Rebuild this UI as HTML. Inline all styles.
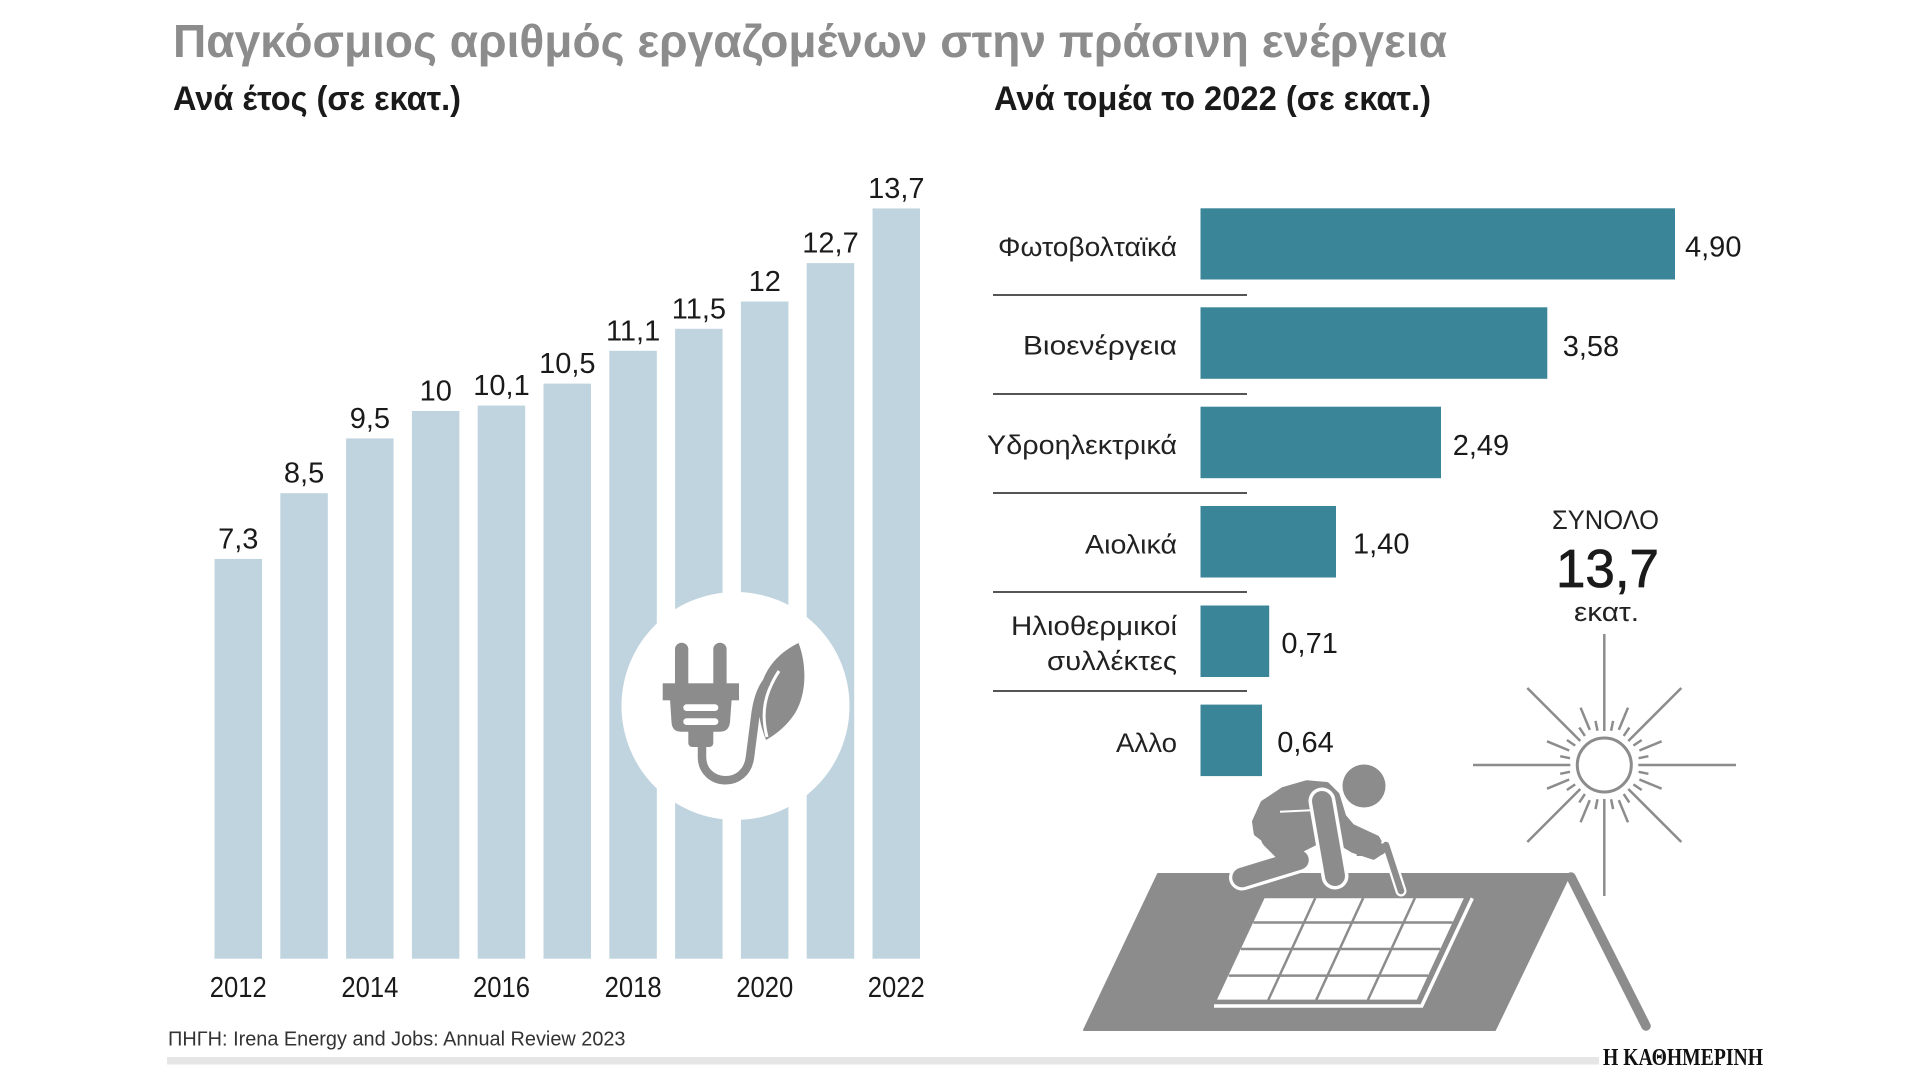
<!DOCTYPE html>
<html>
<head>
<meta charset="utf-8">
<style>
  html, body { margin: 0; padding: 0; background: #ffffff; }
  body { width: 1920px; height: 1080px; overflow: hidden; }
  svg { display: block; }
  text { font-family: "Liberation Sans", "DejaVu Sans", sans-serif; }
  .val { font-size: 29px; fill: #1a1a1a; }
  .lbl { font-size: 27px; fill: #222222; }
</style>
</head>
<body>
<svg width="1920" height="1080" viewBox="0 0 1920 1080" xmlns="http://www.w3.org/2000/svg">
  <rect x="0" y="0" width="1920" height="1080" fill="#ffffff"/>

  <!-- Title -->
  <text x="173" y="57" font-size="46" font-weight="bold" fill="#8c8c8c" textLength="1274" lengthAdjust="spacingAndGlyphs">Παγκόσμιος αριθμός εργαζομένων στην πράσινη ενέργεια</text>

  <!-- Subtitles -->
  <text x="173" y="110" font-size="34" font-weight="bold" fill="#1a1a1a" textLength="288" lengthAdjust="spacingAndGlyphs">Ανά έτος (σε εκατ.)</text>
  <text x="994" y="110" font-size="34" font-weight="bold" fill="#1a1a1a" textLength="437" lengthAdjust="spacingAndGlyphs">Ανά τομέα το 2022 (σε εκατ.)</text>

  <!-- Left bar chart -->
  <g fill="#c0d4df">
    <rect x="214.5" y="558.9" width="47.5" height="399.8"/>
    <rect x="280.3" y="493.2" width="47.5" height="465.5"/>
    <rect x="346.1" y="438.4" width="47.5" height="520.3"/>
    <rect x="411.9" y="411.0" width="47.5" height="547.7"/>
    <rect x="477.7" y="405.5" width="47.5" height="553.2"/>
    <rect x="543.5" y="383.6" width="47.5" height="575.1"/>
    <rect x="609.3" y="350.8" width="47.5" height="607.9"/>
    <rect x="675.1" y="328.8" width="47.5" height="629.9"/>
    <rect x="740.9" y="301.5" width="47.5" height="657.2"/>
    <rect x="806.7" y="263.1" width="47.5" height="695.6"/>
    <rect x="872.5" y="208.4" width="47.5" height="750.3"/>
  </g>
  <g class="val" text-anchor="middle">
    <text class="val" x="238.3" y="548.4">7,3</text>
    <text class="val" x="304.1" y="482.7">8,5</text>
    <text class="val" x="369.9" y="427.9">9,5</text>
    <text class="val" x="435.7" y="400.5">10</text>
    <text class="val" x="501.5" y="395.0">10,1</text>
    <text class="val" x="567.3" y="373.1">10,5</text>
    <text class="val" x="633.1" y="340.3">11,1</text>
    <text class="val" x="698.9" y="318.3">11,5</text>
    <text class="val" x="764.7" y="291.0">12</text>
    <text class="val" x="830.5" y="252.6">12,7</text>
    <text class="val" x="896.3" y="197.9">13,7</text>
  </g>
  <g text-anchor="middle">
    <text class="val" x="238.3" y="997" textLength="57" lengthAdjust="spacingAndGlyphs">2012</text>
    <text class="val" x="369.9" y="997" textLength="57" lengthAdjust="spacingAndGlyphs">2014</text>
    <text class="val" x="501.5" y="997" textLength="57" lengthAdjust="spacingAndGlyphs">2016</text>
    <text class="val" x="633.1" y="997" textLength="57" lengthAdjust="spacingAndGlyphs">2018</text>
    <text class="val" x="764.7" y="997" textLength="57" lengthAdjust="spacingAndGlyphs">2020</text>
    <text class="val" x="896.3" y="997" textLength="57" lengthAdjust="spacingAndGlyphs">2022</text>
  </g>

  <!-- Icon circle with plug + leaf -->
  <circle cx="735.5" cy="706" r="114" fill="#ffffff"/>
  <g fill="#8c8c8c">
    <rect x="675" y="642.7" width="13.3" height="48" rx="6.6"/>
    <rect x="713.3" y="642.7" width="13.3" height="48" rx="6.6"/>
    <rect x="662.7" y="683.3" width="76.3" height="17"/>
    <path d="M670 699 L731.7 699 L730 722 Q729 731.7 720 731.7 L681 731.7 Q672 731.7 671.5 722 Z"/>
    <rect x="688.3" y="728" width="25" height="19" rx="4"/>
    <path d="M798.5 643 C807 664, 808 700, 790 720 C782 730, 773 736, 766 740 C758 720, 756 700, 762 683 C768 664, 782 651, 798.5 643 Z"/>
  </g>
  <g fill="#ffffff">
    <rect x="683.3" y="704.3" width="35" height="6.7" rx="3.3"/>
    <rect x="683.3" y="718.3" width="35" height="6.7" rx="3.3"/>
  </g>
  <path d="M767 737 C761 714, 764 694, 779 671" fill="none" stroke="#ffffff" stroke-width="3"/>
  <path d="M702 745 L702 757 C702 786, 746 790, 750 757 L755 718 C757 700, 761 690, 766 683" fill="none" stroke="#8c8c8c" stroke-width="8.5" stroke-linecap="round"/>

  <!-- Source -->
  <text x="168" y="1045.5" font-size="20" fill="#333333" textLength="457.5" lengthAdjust="spacingAndGlyphs">ΠΗΓΗ: Irena Energy and Jobs: Annual Review 2023</text>

  <!-- Bottom gray bar -->
  <rect x="167" y="1057" width="1432" height="7.5" fill="#e6e6e6"/>
  <text x="1603" y="1065" font-size="24" font-weight="bold" fill="#111111" textLength="160" lengthAdjust="spacingAndGlyphs" style="font-family:'Liberation Serif', serif;">Η ΚΑΘΗΜΕΡΙΝΗ</text>

  <!-- Right bar chart -->
  <g fill="#3b8598">
    <rect x="1200.5" y="208.3" width="474.5" height="71.2"/>
    <rect x="1200.5" y="307.3" width="346.8" height="71.5"/>
    <rect x="1200.5" y="406.7" width="240.5" height="71.5"/>
    <rect x="1200.5" y="506.0" width="135.5" height="71.5"/>
    <rect x="1200.5" y="605.5" width="68.7" height="71.5"/>
    <rect x="1200.5" y="704.6" width="61.5" height="71.5"/>
  </g>
  <g stroke="#555555" stroke-width="2">
    <line x1="993" y1="295" x2="1247" y2="295"/>
    <line x1="993" y1="394" x2="1247" y2="394"/>
    <line x1="993" y1="493" x2="1247" y2="493"/>
    <line x1="993" y1="592" x2="1247" y2="592"/>
    <line x1="993" y1="691" x2="1247" y2="691"/>
  </g>
  <g text-anchor="end">
    <text class="lbl" x="1177" y="256" textLength="179" lengthAdjust="spacingAndGlyphs">Φωτοβολταϊκά</text>
    <text class="lbl" x="1177" y="354.5" textLength="154" lengthAdjust="spacingAndGlyphs">Βιοενέργεια</text>
    <text class="lbl" x="1177" y="454" textLength="190" lengthAdjust="spacingAndGlyphs">Υδροηλεκτρικά</text>
    <text class="lbl" x="1177" y="553.5" textLength="92" lengthAdjust="spacingAndGlyphs">Αιολικά</text>
    <text class="lbl" x="1177" y="635" textLength="166" lengthAdjust="spacingAndGlyphs">Ηλιοθερμικοί</text>
    <text class="lbl" x="1177" y="670" textLength="130" lengthAdjust="spacingAndGlyphs">συλλέκτες</text>
    <text class="lbl" x="1177" y="752" textLength="61" lengthAdjust="spacingAndGlyphs">Αλλο</text>
  </g>
  <text class="val" x="1685" y="256.7">4,90</text>
  <text class="val" x="1562.7" y="356">3,58</text>
  <text class="val" x="1452.7" y="455">2,49</text>
  <text class="val" x="1353" y="553.5">1,40</text>
  <text class="val" x="1281.4" y="653">0,71</text>
  <text class="val" x="1277.3" y="752">0,64</text>

  <!-- Total -->
  <text x="1552" y="529" font-size="27" fill="#222222" textLength="107" lengthAdjust="spacingAndGlyphs">ΣΥΝΟΛΟ</text>
  <text x="1556" y="587" font-size="54" fill="#1a1a1a" stroke="#1a1a1a" stroke-width="0.8" textLength="103" lengthAdjust="spacingAndGlyphs">13,7</text>
  <text x="1574" y="621" font-size="27" fill="#222222" textLength="65" lengthAdjust="spacingAndGlyphs">εκατ.</text>

  <!-- Sun -->
  <g stroke="#8c8c8c" stroke-width="2.5" fill="none" stroke-linecap="butt">
    <circle cx="1604.3" cy="765" r="27" stroke-width="3"/>
    <line x1="1604.3" y1="731" x2="1604.3" y2="634"/>
    <line x1="1604.3" y1="799" x2="1604.3" y2="896"/>
    <line x1="1570.3" y1="765" x2="1473" y2="765"/>
    <line x1="1638.3" y1="765" x2="1736" y2="765"/>
    <line x1="1580.3" y1="741" x2="1527.3" y2="688"/>
    <line x1="1628.3" y1="741" x2="1681.3" y2="688"/>
    <line x1="1580.3" y1="789" x2="1527.3" y2="842"/>
    <line x1="1628.3" y1="789" x2="1681.3" y2="842"/>
    <line x1="1618.8" y1="729.9" x2="1628.0" y2="707.7"/>
    <line x1="1639.4" y1="750.5" x2="1661.6" y2="741.3"/>
    <line x1="1639.4" y1="779.5" x2="1661.6" y2="788.7"/>
    <line x1="1618.8" y1="800.1" x2="1628.0" y2="822.3"/>
    <line x1="1589.8" y1="800.1" x2="1580.6" y2="822.3"/>
    <line x1="1569.2" y1="779.5" x2="1547.0" y2="788.7"/>
    <line x1="1569.2" y1="750.5" x2="1547.0" y2="741.3"/>
    <line x1="1589.8" y1="729.9" x2="1580.6" y2="707.7"/>
    <line x1="1611.1" y1="730.7" x2="1613.1" y2="720.9"/>
    <line x1="1623.7" y1="735.9" x2="1629.3" y2="727.6"/>
    <line x1="1633.4" y1="745.6" x2="1641.7" y2="740.0"/>
    <line x1="1638.6" y1="758.2" x2="1648.4" y2="756.2"/>
    <line x1="1638.6" y1="771.8" x2="1648.4" y2="773.8"/>
    <line x1="1633.4" y1="784.4" x2="1641.7" y2="790.0"/>
    <line x1="1623.7" y1="794.1" x2="1629.3" y2="802.4"/>
    <line x1="1611.1" y1="799.3" x2="1613.1" y2="809.1"/>
    <line x1="1597.5" y1="799.3" x2="1595.5" y2="809.1"/>
    <line x1="1584.9" y1="794.1" x2="1579.3" y2="802.4"/>
    <line x1="1575.2" y1="784.4" x2="1566.9" y2="790.0"/>
    <line x1="1570.0" y1="771.8" x2="1560.2" y2="773.8"/>
    <line x1="1570.0" y1="758.2" x2="1560.2" y2="756.2"/>
    <line x1="1575.2" y1="745.6" x2="1566.9" y2="740.0"/>
    <line x1="1584.9" y1="735.9" x2="1579.3" y2="727.6"/>
    <line x1="1597.5" y1="730.7" x2="1595.5" y2="720.9"/>
  </g>

  <!-- Roof -->
  <path d="M1158 874 L1570 874 L1495 1030 L1084 1030 Z" fill="#8c8c8c" stroke="#8c8c8c" stroke-width="2" stroke-linejoin="round"/>
  <line x1="1571" y1="877" x2="1646" y2="1026" stroke="#8c8c8c" stroke-width="9.5" stroke-linecap="round"/>

  <!-- Solar panel -->
  <path d="M1264.5 898.2 L1463.8 898.2 L1416.8 999.6 L1217 999.6 Z" fill="#ffffff"/>
  <g stroke="#8c8c8c" stroke-width="2.5">
    <line x1="1315.3" y1="898" x2="1268.3" y2="1000"/>
    <line x1="1363.2" y1="898" x2="1316.2" y2="1000"/>
    <line x1="1414.9" y1="898" x2="1367.9" y2="1000"/>
    <line x1="1253.3" y1="922.5" x2="1452.6" y2="922.5"/>
    <line x1="1241" y1="949" x2="1440.3" y2="949"/>
    <line x1="1228.7" y1="975.6" x2="1428" y2="975.6"/>
  </g>
  <polyline points="1214,1006 1421.7,1006 1472.3,898.2" fill="none" stroke="#ffffff" stroke-width="3.5"/>

  <!-- Worker -->
  <g stroke-linecap="round" fill="none">
    <line x1="1242" y1="877.5" x2="1299" y2="860" stroke="#ffffff" stroke-width="26"/>
    <line x1="1242" y1="877.5" x2="1299" y2="860" stroke="#8c8c8c" stroke-width="19.5"/>
    <line x1="1272" y1="838" x2="1292" y2="858" stroke="#8c8c8c" stroke-width="22"/>
  </g>
  <path d="M1255 821.7 L1263.3 803.3 L1283.3 790 L1306.7 783.3 L1326.7 785 L1336.7 795 L1343.3 816.7 L1351.7 826.7 L1376.7 838.3 L1383.3 850 L1373.3 856.7 L1353.3 850 L1336.7 840 L1320 840 L1300 850 L1283.3 850 L1270 843.3 L1256.7 833.3 Z" fill="#8c8c8c" stroke="#8c8c8c" stroke-width="6" stroke-linejoin="round"/>
  <line x1="1280" y1="811.7" x2="1316.7" y2="810" stroke="#ffffff" stroke-width="2"/>
  <g stroke-linecap="round" fill="none">
    <line x1="1322" y1="801" x2="1335" y2="876" stroke="#ffffff" stroke-width="27"/>
    <line x1="1322" y1="801" x2="1335" y2="876" stroke="#8c8c8c" stroke-width="20"/>
    <line x1="1386" y1="845" x2="1401" y2="891" stroke="#ffffff" stroke-width="11"/>
    <line x1="1386" y1="845" x2="1401" y2="891" stroke="#8c8c8c" stroke-width="6.5"/>
  </g>
  <rect x="1356.7" y="849.3" width="7.3" height="6.7" fill="#8c8c8c"/>
  <circle cx="1380" cy="849" r="6" fill="#8c8c8c"/>
  <circle cx="1364" cy="786" r="21.5" fill="#8c8c8c"/>
</svg>
</body>
</html>
